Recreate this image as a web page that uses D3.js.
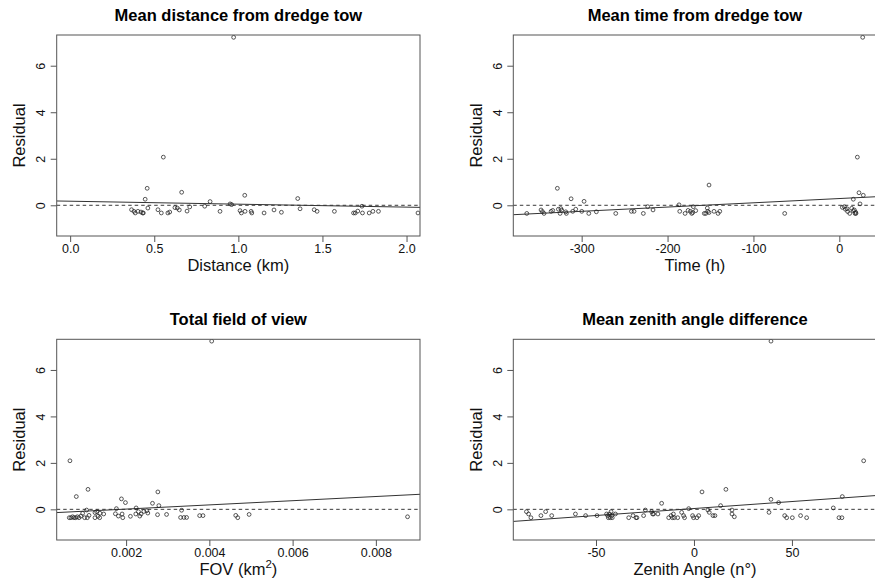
<!DOCTYPE html>
<html lang="en">
<head>
<meta charset="UTF-8">
<title>Residual plots</title>
<script src="https://d3js.org/d3.v7.min.js"></script>
<style>
  body { margin: 0; background: #fff; }
  svg { display: block; font-family: "Liberation Sans", Arial, Helvetica, sans-serif; }
</style>
</head>
<body>
<svg id="chart"></svg>
<script>
// --- data ---
const distKm = [0.365,0.379,0.387,0.403,0.421,0.431,0.435,0.446,0.458,0.462,0.522,0.542,0.554,0.581,0.592,0.623,0.637,0.649,0.663,0.695,0.711,0.800,0.832,0.891,0.951,0.960,0.972,1.010,1.018,1.038,1.040,1.076,1.080,1.153,1.212,1.256,1.353,1.367,1.451,1.468,1.571,1.685,1.695,1.710,1.735,1.738,1.778,1.800,1.833,2.068];
const distResid = [-0.19,-0.26,-0.33,-0.26,-0.29,-0.33,-0.33,0.26,0.73,-0.12,-0.19,-0.33,2.07,-0.33,-0.29,-0.10,-0.12,-0.20,0.56,-0.25,-0.07,-0.04,0.16,-0.26,0.06,0.03,7.22,-0.23,-0.33,0.43,-0.26,-0.26,-0.33,-0.33,-0.20,-0.30,0.29,-0.15,-0.19,-0.26,-0.26,-0.33,-0.33,-0.25,-0.04,-0.33,-0.33,-0.26,-0.26,-0.33];

const timeH = [-363.9,-347.3,-345.7,-343.8,-335.6,-333.7,-328.3,-327.1,-325.1,-324.3,-323.2,-318.5,-317.8,-312.3,-310.4,-306.9,-299.9,-297.2,-291.7,-282.9,-260.3,-242.1,-239.0,-228.2,-223.1,-216.9,-186.6,-185.8,-179.6,-176.1,-173.4,-171.8,-170.7,-170.0,-167.2,-157.2,-155.5,-153.7,-153.2,-151.7,-151.7,-145.9,-141.2,-139.2,-63.6,
  3.5,5.8,7.0,9.0,9.7,12.1,14.4,16.3,16.3,17.5,18.3,19.1,19.4,21.0,22.9,24.1,27.2,27.9];
const timeResid = [-0.35,-0.20,-0.27,-0.35,-0.26,-0.22,0.73,-0.17,-0.35,-0.14,-0.21,-0.28,-0.35,0.28,-0.26,-0.17,-0.26,0.17,-0.35,-0.28,-0.35,-0.26,-0.26,-0.35,-0.06,-0.20,0.02,-0.26,-0.35,-0.22,-0.26,-0.35,-0.31,-0.06,-0.23,-0.35,-0.35,-0.12,-0.26,-0.31,0.87,-0.26,-0.35,-0.26,-0.35,
  -0.09,-0.06,-0.17,-0.15,-0.27,-0.35,-0.13,0.26,-0.23,-0.20,-0.35,-0.30,-0.35,2.07,0.54,0.06,7.22,0.43];

const fovKm2 = [0.000635,0.000651,0.000675,0.000715,0.000747,0.000787,0.000804,0.000828,0.000868,0.000916,0.000956,0.001004,0.001052,0.001068,0.001085,0.001109,0.001253,0.001253,0.001293,0.001325,0.001366,0.001374,0.001462,0.001743,0.001767,0.001815,0.001888,0.001904,0.00192,0.001984,0.002104,0.002233,0.002241,0.002297,0.002329,0.002361,0.002426,0.002498,0.002522,0.002634,0.002755,0.002763,0.002787,0.002972,0.003309,0.003333,0.003389,0.003453,0.003767,0.003847,0.004056,0.004634,0.004682,0.004955,0.008761];
const fovResid = [-0.36,2.09,-0.36,-0.32,-0.36,-0.36,0.55,-0.32,-0.36,-0.29,-0.17,-0.36,-0.03,-0.36,0.86,-0.26,-0.14,-0.36,-0.10,-0.30,-0.36,-0.17,-0.20,-0.19,0.03,-0.29,0.45,-0.20,-0.36,0.29,-0.30,-0.20,0.06,-0.10,-0.29,-0.20,-0.09,-0.06,-0.16,0.26,-0.23,0.75,0.16,-0.22,-0.35,-0.04,-0.35,-0.35,-0.27,-0.27,7.24,-0.26,-0.36,-0.22,-0.32];

const zenDeg = [-85.5,-84.4,-83.2,-78.1,-75.7,-72.6,-60.5,-55.3,-49.5,-44.6,-44.0,-43.7,-43.0,-42.7,-42.3,-42.0,-41.7,-40.1,-33.3,-31.1,-29.6,-29.1,-25.7,-24.8,-21.6,-21.1,-20.6,-18.4,-16.5,-12.9,-11.7,-11.0,-10.5,-10.0,-8.3,-6.3,-5.3,-4.8,-2.7,-0.7,-0.2,1.5,2.4,4.1,7.1,7.8,9.7,10.7,13.6,16.3,19.4,19.4,20.6,38.3,39.3,39.3,43.2,46.3,47.3,50.2,54.4,57.5,71.1,74.0,75.5,75.7,86.6];
const zenResid = [-0.10,-0.20,-0.36,-0.27,-0.10,-0.27,-0.20,-0.27,-0.27,-0.20,-0.27,-0.36,-0.20,-0.36,-0.10,-0.27,-0.36,-0.20,-0.36,-0.27,-0.36,-0.36,-0.27,-0.03,-0.10,-0.20,-0.20,-0.20,0.26,-0.36,-0.27,-0.36,-0.20,-0.36,-0.36,-0.13,-0.27,-0.36,0.03,-0.27,-0.36,-0.36,-0.27,0.75,-0.03,-0.13,-0.27,-0.27,0.16,0.86,-0.03,-0.20,-0.32,-0.13,7.24,0.43,0.29,-0.27,-0.36,-0.36,-0.27,-0.36,0.06,-0.36,-0.36,0.55,2.09];

// fitted lines: [intercept, slope]
const fitDist = [0.175, -0.127];
const fitTime = [0.29, 0.00183];
const fitFov = [-0.17, 90.3];
const fitZen = [0.035, 0.00602];

// tick labels
const distTicks = [0, 0.5, 1, 1.5, 2];
const timeTicks = [-300, -200, -100, 0];
const fovTicks = [0.002, 0.004, 0.006, 0.008];
const zenTicks = [-50, 0, 50];
const residTicks = [0, 2, 4, 6];

const titles = ["Mean distance from dredge tow", "Mean time from dredge tow", "Total field of view", "Mean zenith angle difference"];

// --- layout ---
const W = 875, H = 584;
const yDomain = [-1.32, 7.32];

const panels = [
  { title: titles[0], xs: distKm, ys: distResid, fit: fitDist, ticks: distTicks, fmt: d3.format(".1f"),
    xDomain: [-0.08, 2.08], box: [56.7, 420, 35, 236], xlab: "Distance (km)" },
  { title: titles[1], xs: timeH, ys: timeResid, fit: fitTime, ticks: timeTicks, fmt: d => String(d),
    xDomain: [-379.6, 43.4], box: [513.3, 876.6, 35, 236], xlab: "Time (h)" },
  { title: titles[2], xs: fovKm2, ys: fovResid, fit: fitFov, ticks: fovTicks, fmt: d3.format(".3f"),
    xDomain: [0.000333, 0.00906], box: [56.7, 420, 339.3, 540], xlab: "FOV" },
  { title: titles[3], xs: zenDeg, ys: zenResid, fit: fitZen, ticks: zenTicks, fmt: d => String(d),
    xDomain: [-92.2, 93.2], box: [513.3, 876.6, 339.3, 540], xlab: "Zenith Angle (n°)" }
];

const svg = d3.select("#chart").attr("width", W).attr("height", H);
const ink = "#222";
const frame = "#555";

panels.forEach((p, k) => {
  const [L, R, T, B] = p.box;
  const x = d3.scaleLinear().domain(p.xDomain).range([L, R]);
  const y = d3.scaleLinear().domain(yDomain).range([B, T]);
  const g = svg.append("g");

  g.append("clipPath").attr("id", "clip" + k)
    .append("rect").attr("x", L).attr("y", T).attr("width", R - L).attr("height", B - T);

  // dashed zero line
  g.append("line")
    .attr("x1", L).attr("x2", R).attr("y1", y(0)).attr("y2", y(0))
    .attr("stroke", ink).attr("stroke-width", 0.9).attr("stroke-dasharray", "3.5,3");

  // regression line
  const [a, b] = p.fit;
  g.append("line")
    .attr("clip-path", `url(#clip${k})`)
    .attr("x1", L).attr("x2", R)
    .attr("y1", y(a + b * p.xDomain[0])).attr("y2", y(a + b * p.xDomain[1]))
    .attr("stroke", "#333").attr("stroke-width", 1);

  // points
  g.append("g").attr("clip-path", `url(#clip${k})`)
    .selectAll("circle")
    .data(d3.zip(p.xs, p.ys))
    .join("circle")
    .attr("cx", d => x(d[0]))
    .attr("cy", d => y(d[1]))
    .attr("r", 1.9)
    .attr("fill", "none")
    .attr("stroke", ink)
    .attr("stroke-width", 0.75);

  // frame
  g.append("rect")
    .attr("x", L).attr("y", T).attr("width", R - L).attr("height", B - T)
    .attr("fill", "none").attr("stroke", frame).attr("stroke-width", 1);

  // x axis
  const gx = g.append("g").attr("transform", `translate(0,${B})`)
    .call(d3.axisBottom(x).tickValues(p.ticks).tickFormat(p.fmt).tickSize(6).tickPadding(2.3));
  gx.select(".domain").remove();
  gx.selectAll("line").attr("stroke", frame);
  gx.selectAll("text").attr("font-size", 12.5).attr("fill", "#111")
    .attr("font-family", null);
  gx.attr("font-family", null).attr("font-size", null);

  // y axis
  const gy = g.append("g").attr("transform", `translate(${L},0)`)
    .call(d3.axisLeft(y).tickValues(residTicks).tickFormat(d => String(d)).tickSize(6));
  gy.select(".domain").remove();
  gy.selectAll("line").attr("stroke", frame);
  gy.selectAll("text")
    .attr("x", null).attr("dy", null)
    .attr("text-anchor", "middle")
    .attr("transform", "translate(-11.7,0) rotate(-90)")
    .attr("font-size", 12.5).attr("fill", "#111");
  gy.attr("font-family", null).attr("font-size", null);

  // title
  g.append("text")
    .attr("x", (L + R) / 2).attr("y", T - 14.4)
    .attr("text-anchor", "middle")
    .attr("font-weight", "bold").attr("font-size", 16.5).attr("fill", "#000")
    .text(p.title);

  // y label
  g.append("text")
    .attr("transform", `translate(${L - 31.7},${(T + B) / 2}) rotate(-90)`)
    .attr("text-anchor", "middle")
    .attr("font-size", 16.5).attr("fill", "#111")
    .text("Residual");

  // x label
  const xl = g.append("text")
    .attr("x", (L + R) / 2).attr("y", B + 34.5)
    .attr("text-anchor", "middle")
    .attr("font-size", 16.5).attr("fill", "#111");
  if (p.xlab === "FOV") {
    xl.append("tspan").text("FOV (km");
    xl.append("tspan").attr("font-size", 11.5).attr("dy", -7).text("2");
    xl.append("tspan").attr("dy", 7).text(")");
  } else {
    xl.text(p.xlab);
  }
});
</script>
</body>
</html>
